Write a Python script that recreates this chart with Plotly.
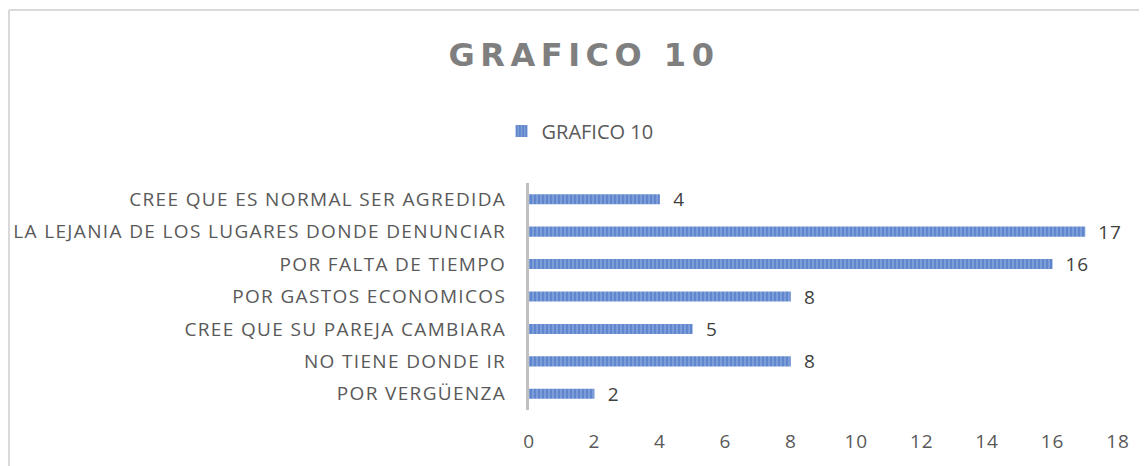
import plotly.graph_objects as go

categories = [
    "POR VERGÜENZA",
    "NO TIENE DONDE IR",
    "CREE QUE SU PAREJA CAMBIARA",
    "POR GASTOS ECONOMICOS",
    "POR FALTA DE TIEMPO",
    "LA LEJANIA DE LOS LUGARES DONDE DENUNCIAR",
    "CREE QUE ES NORMAL SER AGREDIDA",
]
values = [2, 8, 5, 8, 16, 17, 4]
series_name = "GRAFICO 10"
chart_title = "GRAFICO 10"
x_ticks = [0, 2, 4, 6, 8, 10, 12, 14, 16, 18]

# page body has an 8px margin: work in figure coordinates = window - 8
OFF = 8
W, H = 1147 - OFF, 466 - OFF
L = 529 - OFF
R = W - (1118 - OFF)
T = 183 - OFF
B = H - (410 - OFF)
pw, ph = W - L - R, H - T - B

FONT = "Open Sans"

fig = go.Figure()
fig.add_trace(go.Bar(
    y=categories,
    x=values,
    orientation="h",
    name=series_name,
    width=0.31,
    marker=dict(
        color="#4472C4",
        line=dict(width=0),
        pattern=dict(shape="|", bgcolor="#7D9DD8", fgcolor="#4472C4", size=4, solidity=0.5),
    ),
    text=values,
    texttemplate="  %{x}",
    textposition="outside",
    constraintext="none",
    textfont=dict(family=FONT, size=19, color="#404040"),
    cliponaxis=False,
    showlegend=True,
))

def px_x(p):
    return (p - OFF - L) / pw

def px_y(p):
    return (H - B - (p - OFF)) / ph

fig.update_layout(
    width=W, height=H,
    margin=dict(l=L, r=R, t=T, b=B, autoexpand=False),
    paper_bgcolor="white",
    plot_bgcolor="white",
    font=dict(family=FONT, color="#595959"),
    title=dict(
        text="<b>" + chart_title + "</b>",
        x=(584 - OFF) / W, xanchor="center",
        y=1 - (55 - OFF) / H, yanchor="middle",
        font=dict(family="DejaVu Sans", size=32, color="#7F7F7F"),
    ),
    legend=dict(
        orientation="h",
        x=px_x(580), xanchor="center",
        y=px_y(131), yanchor="middle",
        font=dict(family=FONT, size=20, color="#595959"),
        itemwidth=30,
    ),
    xaxis=dict(
        range=[0, 18],
        tickvals=x_ticks,
        showgrid=False,
        zeroline=False,
        showline=False,
        ticks="",
        tickfont=dict(family=FONT, size=19, color="#595959"),
        ticklabelstandoff=18,
        fixedrange=True,
    ),
    yaxis=dict(
        categoryorder="array",
        categoryarray=categories,
        showgrid=False,
        zeroline=False,
        showline=True,
        linecolor="#BFBFBF",
        linewidth=3,
        ticks="",
        tickfont=dict(family=FONT, size=19, color="#595959"),
        ticklabelstandoff=16,
    ),
    shapes=[
        dict(type="line", xref="paper", yref="paper",
             x0=px_x(9), x1=px_x(1147), y0=px_y(10), y1=px_y(10),
             line=dict(color="#D9D9D9", width=2)),
        dict(type="line", xref="paper", yref="paper",
             x0=px_x(9), x1=px_x(9), y0=px_y(10), y1=px_y(466),
             line=dict(color="#D9D9D9", width=2)),
    ],
)

post = """
document.querySelectorAll('.gtitle').forEach(function(e){ e.style.letterSpacing='5.5px'; });
document.querySelectorAll('.ytick text').forEach(function(e){ e.style.letterSpacing='1.35px'; });
document.querySelectorAll('.xtick text, .bartext').forEach(function(e){ e.style.letterSpacing='0.9px'; });
"""

fig.write_html("out.html", post_script=post)
